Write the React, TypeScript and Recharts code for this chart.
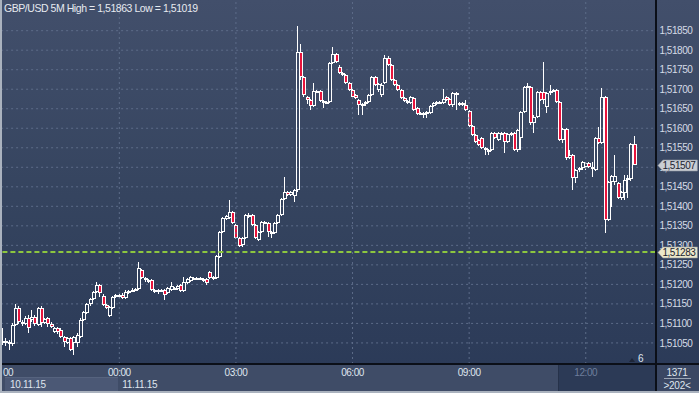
import React from 'react';
import { ComposedChart, Bar, XAxis, YAxis, CartesianGrid, ReferenceLine } from 'recharts';

// ---- data (GBP/USD, 5-minute candles from 10.11.15 21:00) ----
const open = [
  1.51050, 1.51055, 1.51050, 1.51047, 1.51096, 1.51140, 1.51104, 1.51099, 1.51114, 1.51109,
  1.51117, 1.51096, 1.51140, 1.51101, 1.51114, 1.51099, 1.51078, 1.51088, 1.51083, 1.51065,
  1.51050, 1.51063, 1.51050, 1.51050, 1.51065, 1.51109, 1.51127, 1.51150, 1.51163, 1.51181,
  1.51199, 1.51170, 1.51147, 1.51119, 1.51140, 1.51173, 1.51168, 1.51173, 1.51165, 1.51178,
  1.51183, 1.51186, 1.51188, 1.51237, 1.51217, 1.51211, 1.51211, 1.51186, 1.51181, 1.51186,
  1.51186, 1.51178, 1.51186, 1.51191, 1.51188, 1.51199, 1.51183, 1.51204, 1.51209, 1.51214,
  1.51217, 1.51214, 1.51209, 1.51214, 1.51232, 1.51217, 1.51217, 1.51270, 1.51334, 1.51368,
  1.51370, 1.51386, 1.51352, 1.51319, 1.51301, 1.51319, 1.51373, 1.51378, 1.51352, 1.51314,
  1.51334, 1.51360, 1.51357, 1.51334, 1.51332, 1.51357, 1.51378, 1.51419, 1.51437, 1.51429,
  1.51427, 1.51442, 1.51795, 1.51731, 1.51680, 1.51672, 1.51657, 1.51696, 1.51696, 1.51665,
  1.51665, 1.51667, 1.51767, 1.51790, 1.51757, 1.51742, 1.51737, 1.51716, 1.51698, 1.51685,
  1.51672, 1.51660, 1.51662, 1.51667, 1.51685, 1.51731, 1.51698, 1.51685, 1.51716, 1.51780,
  1.51762, 1.51724, 1.51711, 1.51698, 1.51678, 1.51670, 1.51665, 1.51678, 1.51652, 1.51637,
  1.51639, 1.51637, 1.51639, 1.51657, 1.51662, 1.51667, 1.51665, 1.51680, 1.51675, 1.51660,
  1.51690, 1.51662, 1.51660, 1.51660, 1.51644, 1.51606, 1.51583, 1.51570, 1.51575, 1.51550,
  1.51542, 1.51544, 1.51588, 1.51570, 1.51588, 1.51588, 1.51565, 1.51585, 1.51588, 1.51544,
  1.51575, 1.51642, 1.51706, 1.51706, 1.51614, 1.51629, 1.51693, 1.51693, 1.51655, 1.51690,
  1.51696, 1.51698, 1.51667, 1.51570, 1.51598, 1.51524, 1.51532, 1.51473, 1.51493, 1.51498,
  1.51501, 1.51511, 1.51498, 1.51493, 1.51575, 1.51562, 1.51680, 1.51365, 1.51462, 1.51462,
  1.51460, 1.51421, 1.51434, 1.51468, 1.51470, 1.51560,
];
const high = [
  1.51088, 1.51063, 1.51058, 1.51101, 1.51150, 1.51145, 1.51109, 1.51119, 1.51122, 1.51135,
  1.51122, 1.51142, 1.51145, 1.51114, 1.51117, 1.51104, 1.51091, 1.51091, 1.51088, 1.51068,
  1.51065, 1.51065, 1.51068, 1.51076, 1.51114, 1.51132, 1.51152, 1.51165, 1.51183, 1.51206,
  1.51201, 1.51176, 1.51150, 1.51145, 1.51170, 1.51176, 1.51176, 1.51178, 1.51186, 1.51186,
  1.51191, 1.51191, 1.51258, 1.51240, 1.51219, 1.51214, 1.51214, 1.51188, 1.51188, 1.51188,
  1.51188, 1.51193, 1.51206, 1.51193, 1.51199, 1.51201, 1.51219, 1.51217, 1.51222, 1.51219,
  1.51219, 1.51219, 1.51217, 1.51217, 1.51234, 1.51222, 1.51275, 1.51337, 1.51373, 1.51378,
  1.51416, 1.51388, 1.51355, 1.51322, 1.51322, 1.51380, 1.51383, 1.51380, 1.51355, 1.51337,
  1.51363, 1.51363, 1.51360, 1.51337, 1.51360, 1.51380, 1.51421, 1.51475, 1.51439, 1.51439,
  1.51445, 1.51863, 1.51816, 1.51734, 1.51683, 1.51675, 1.51716, 1.51698, 1.51698, 1.51672,
  1.51670, 1.51770, 1.51808, 1.51793, 1.51762, 1.51744, 1.51739, 1.51719, 1.51701, 1.51688,
  1.51675, 1.51665, 1.51670, 1.51688, 1.51734, 1.51734, 1.51716, 1.51716, 1.51788, 1.51785,
  1.51765, 1.51726, 1.51713, 1.51701, 1.51680, 1.51672, 1.51683, 1.51680, 1.51655, 1.51642,
  1.51642, 1.51644, 1.51660, 1.51667, 1.51670, 1.51670, 1.51701, 1.51683, 1.51678, 1.51693,
  1.51693, 1.51667, 1.51667, 1.51672, 1.51647, 1.51608, 1.51585, 1.51573, 1.51578, 1.51552,
  1.51547, 1.51591, 1.51591, 1.51591, 1.51591, 1.51591, 1.51588, 1.51591, 1.51591, 1.51598,
  1.51644, 1.51708, 1.51716, 1.51708, 1.51634, 1.51696, 1.51696, 1.51770, 1.51693, 1.51711,
  1.51701, 1.51701, 1.51670, 1.51601, 1.51601, 1.51544, 1.51534, 1.51496, 1.51501, 1.51516,
  1.51514, 1.51514, 1.51514, 1.51578, 1.51603, 1.51703, 1.51683, 1.51465, 1.51480, 1.51532,
  1.51462, 1.51439, 1.51480, 1.51480, 1.51562, 1.51580,
];
const low = [
  1.51045, 1.51042, 1.51032, 1.51042, 1.51094, 1.51099, 1.51094, 1.51096, 1.51076, 1.51104,
  1.51094, 1.51094, 1.51091, 1.51099, 1.51091, 1.51088, 1.51076, 1.51073, 1.51063, 1.51040,
  1.51047, 1.51030, 1.51019, 1.51040, 1.51063, 1.51106, 1.51124, 1.51145, 1.51160, 1.51178,
  1.51168, 1.51145, 1.51137, 1.51117, 1.51137, 1.51165, 1.51165, 1.51163, 1.51163, 1.51176,
  1.51181, 1.51183, 1.51186, 1.51214, 1.51206, 1.51204, 1.51183, 1.51178, 1.51176, 1.51181,
  1.51160, 1.51176, 1.51183, 1.51186, 1.51186, 1.51181, 1.51181, 1.51201, 1.51206, 1.51211,
  1.51211, 1.51211, 1.51206, 1.51199, 1.51214, 1.51211, 1.51214, 1.51268, 1.51332, 1.51365,
  1.51368, 1.51355, 1.51316, 1.51296, 1.51296, 1.51316, 1.51370, 1.51350, 1.51316, 1.51311,
  1.51332, 1.51355, 1.51322, 1.51319, 1.51329, 1.51355, 1.51375, 1.51416, 1.51427, 1.51427,
  1.51411, 1.51437, 1.51724, 1.51680, 1.51662, 1.51647, 1.51655, 1.51690, 1.51667, 1.51652,
  1.51662, 1.51665, 1.51765, 1.51767, 1.51739, 1.51734, 1.51713, 1.51696, 1.51678, 1.51675,
  1.51634, 1.51634, 1.51657, 1.51665, 1.51683, 1.51708, 1.51693, 1.51680, 1.51713, 1.51760,
  1.51721, 1.51708, 1.51696, 1.51675, 1.51667, 1.51662, 1.51662, 1.51644, 1.51634, 1.51634,
  1.51626, 1.51626, 1.51637, 1.51655, 1.51660, 1.51662, 1.51662, 1.51670, 1.51657, 1.51655,
  1.51647, 1.51657, 1.51657, 1.51644, 1.51603, 1.51580, 1.51562, 1.51555, 1.51547, 1.51532,
  1.51532, 1.51542, 1.51573, 1.51567, 1.51583, 1.51537, 1.51562, 1.51580, 1.51542, 1.51539,
  1.51544, 1.51639, 1.51703, 1.51608, 1.51588, 1.51626, 1.51670, 1.51662, 1.51639, 1.51685,
  1.51693, 1.51665, 1.51567, 1.51562, 1.51519, 1.51521, 1.51442, 1.51460, 1.51488, 1.51493,
  1.51493, 1.51498, 1.51475, 1.51491, 1.51560, 1.51560, 1.51332, 1.51363, 1.51398, 1.51455,
  1.51419, 1.51416, 1.51416, 1.51421, 1.51465, 1.51506,
];
const close = [
  1.51055, 1.51050, 1.51053, 1.51096, 1.51140, 1.51104, 1.51099, 1.51114, 1.51088, 1.51117,
  1.51099, 1.51140, 1.51101, 1.51111, 1.51099, 1.51091, 1.51088, 1.51078, 1.51065, 1.51053,
  1.51063, 1.51032, 1.51065, 1.51071, 1.51109, 1.51129, 1.51150, 1.51163, 1.51181, 1.51199,
  1.51178, 1.51147, 1.51140, 1.51142, 1.51168, 1.51168, 1.51173, 1.51165, 1.51181, 1.51183,
  1.51186, 1.51188, 1.51242, 1.51217, 1.51211, 1.51206, 1.51186, 1.51181, 1.51186, 1.51183,
  1.51173, 1.51191, 1.51196, 1.51188, 1.51196, 1.51183, 1.51206, 1.51214, 1.51219, 1.51217,
  1.51214, 1.51217, 1.51214, 1.51204, 1.51217, 1.51219, 1.51273, 1.51334, 1.51370, 1.51375,
  1.51386, 1.51357, 1.51319, 1.51298, 1.51319, 1.51378, 1.51378, 1.51352, 1.51319, 1.51334,
  1.51360, 1.51357, 1.51334, 1.51332, 1.51357, 1.51378, 1.51419, 1.51437, 1.51429, 1.51437,
  1.51442, 1.51795, 1.51731, 1.51685, 1.51672, 1.51657, 1.51696, 1.51693, 1.51670, 1.51670,
  1.51667, 1.51767, 1.51790, 1.51770, 1.51742, 1.51737, 1.51716, 1.51698, 1.51680, 1.51678,
  1.51660, 1.51662, 1.51667, 1.51685, 1.51731, 1.51711, 1.51713, 1.51711, 1.51780, 1.51762,
  1.51724, 1.51711, 1.51698, 1.51678, 1.51670, 1.51665, 1.51680, 1.51647, 1.51637, 1.51639,
  1.51637, 1.51642, 1.51657, 1.51665, 1.51667, 1.51665, 1.51675, 1.51672, 1.51660, 1.51690,
  1.51685, 1.51665, 1.51665, 1.51647, 1.51606, 1.51583, 1.51565, 1.51557, 1.51550, 1.51544,
  1.51544, 1.51588, 1.51575, 1.51588, 1.51585, 1.51565, 1.51585, 1.51588, 1.51544, 1.51596,
  1.51642, 1.51706, 1.51708, 1.51614, 1.51629, 1.51693, 1.51672, 1.51672, 1.51690, 1.51696,
  1.51698, 1.51667, 1.51570, 1.51598, 1.51524, 1.51532, 1.51473, 1.51493, 1.51498, 1.51514,
  1.51511, 1.51501, 1.51501, 1.51575, 1.51562, 1.51680, 1.51365, 1.51462, 1.51478, 1.51478,
  1.51421, 1.51437, 1.51468, 1.51473, 1.51560, 1.51507,
];

const startTime = { h: 21, m: 0 };
const stepMinutes = 5;
const emptySlots = 6;

const yTicks = [
  1.5105, 1.511, 1.5115, 1.512, 1.5125, 1.513, 1.5135, 1.514, 1.5145,
  1.515, 1.5155, 1.516, 1.5165, 1.517, 1.5175, 1.518, 1.5185,
];
const yDomain = [1.50996, 1.519286];
const xTickTimes = ['21:00', '00:00', '03:00', '06:00', '09:00', '12:00'];
const xTickText = ['00', '00:00', '03:00', '06:00', '09:00', '12:00'];
const gridTimes = ['00:00', '03:00', '06:00', '09:00', '12:00'];
const dateLabels = ['10.11.15', '11.11.15'];
const lastPrice = 1.51507;
const levelPrice = 1.51283;
const tagPrices = [levelPrice, lastPrice];
const tagFills = ['#ebe7c9', '#c9cdd3'];
const titleText = 'GBP/USD 5M High = 1,51863 Low = 1,51019';
const footerTop = '1371';
const footerBottom = '>202<';
const cornerCount = '6';

// ---- build table ----
const pad = (n: number) => String(n).padStart(2, '0');
const times: string[] = [];
for (let i = 0; i < open.length + emptySlots; i++) {
  const total = (startTime.h * 60 + startTime.m + i * stepMinutes) % 1440;
  times.push(`${pad(Math.floor(total / 60))}:${pad(total % 60)}`);
}
const data = times.map((t, i) =>
  i < open.length
    ? { t, o: open[i], h: high[i], l: low[i], c: close[i], range: [low[i], high[i]] }
    : { t, o: null, h: null, l: null, c: null, range: null }
);

const FONT = '"Liberation Sans", Arial, sans-serif';
const fmt = (v: number) => v.toFixed(5).replace('.', ',');

const Candle = (props: any) => {
  const { x, y, width, height, payload } = props;
  if (!payload || payload.o == null || !isFinite(y)) return null;
  const { o, h, l, c } = payload;
  const top = Math.min(y, y + height);
  const bottom = Math.max(y, y + height);
  const span = h - l;
  const py = (p: number) => (span > 0 ? top + ((h - p) / span) * (bottom - top) : top);
  const cx = Math.floor(x + width / 2) + 0.5;
  const bTop = Math.round(py(Math.max(o, c)));
  let bBot = Math.round(py(Math.min(o, c)));
  if (bBot - bTop < 2) bBot = bTop + 2;
  const up = c >= o;
  const wTop = Math.round(top);
  const wBot = Math.round(bottom);
  return (
    <g>
      {wTop < bTop && <line x1={cx} x2={cx} y1={wTop} y2={bTop} stroke="#ffffff" strokeWidth={1} />}
      {wBot > bBot && <line x1={cx} x2={cx} y1={bBot} y2={wBot} stroke="#ffffff" strokeWidth={1} />}
      <rect
        x={cx - 1}
        y={bTop + 0.5}
        width={3}
        height={bBot - bTop - 1}
        fill={up ? 'none' : '#e8143c'}
        stroke="#ffffff"
        strokeWidth={1}
      />
    </g>
  );
};

const XTick = (props: any) => {
  const { x, payload } = props;
  const idx = xTickTimes.indexOf(payload.value);
  if (idx < 0) return null;
  const dim = idx === xTickTimes.length - 1;
  return (
    <g>
      <text
        x={idx === 0 ? 3 : x}
        y={376}
        textAnchor={idx === 0 ? 'start' : 'middle'}
        fill={dim ? '#6e7e9b' : '#dfe5ee'}
        fontSize={10}
        letterSpacing={-0.45}
        fontFamily={FONT}
      >
        {xTickText[idx]}
      </text>
      {idx < dateLabels.length && (
        <text
          x={idx === 0 ? 10 : x + 3}
          y={388}
          textAnchor="start"
          fill="#dfe5ee"
          fontSize={10}
          letterSpacing={-0.3}
          fontFamily={FONT}
        >
          {dateLabels[idx]}
        </text>
      )}
    </g>
  );
};

// price-axis tick: regular labels, plus tags for the level / last price (listed last, drawn on top)
const YTick = (props: any) => {
  const { x, y, payload } = props;
  if (!payload || !isFinite(y)) return null;
  const v = payload.value;
  const tagIdx = tagPrices.indexOf(v);
  if (tagIdx < 0) {
    return (
      <text x={x} y={y + 3.6} fill="#d4dbe6" fontSize={10} letterSpacing={-0.45} fontFamily={FONT} textAnchor="start">
        {fmt(v)}
      </text>
    );
  }
  const x0 = x - 1.5;
  const y0 = Math.round(y) + 0.5;
  const pts = `${x0},${y0} ${x0 + 5},${y0 - 5.5} ${x0 + 39.5},${y0 - 5.5} ${x0 + 39.5},${y0 + 5.5} ${x0 + 5},${y0 + 5.5}`;
  return (
    <g>
      <polygon points={pts} fill={tagFills[tagIdx]} stroke="#8d949e" strokeWidth={0.6} />
      <text x={x0 + 4.5} y={y0 + 3.8} fill="#1b2230" fontSize={10} letterSpacing={-0.45} fontFamily={FONT}>
        {fmt(v)}
      </text>
    </g>
  );
};

export default function App() {
  return (
    <div
      style={{
        position: 'absolute',
        left: 0,
        top: 0,
        width: 699,
        height: 393,
        overflow: 'hidden',
        background: 'linear-gradient(180deg, #424f6b 0%, #35445f 50%, #2a3957 100%)',
        fontFamily: FONT,
      }}
    >
      {/* bottom time bar */}
      <div style={{ position: 'absolute', left: 0, top: 365, width: 699, height: 28, background: '#3f4c67' }} />
      <div style={{ position: 'absolute', left: 558, top: 365, width: 98, height: 26, background: '#2c3a56', borderLeft: '1px solid #26324a' }} />
      <div style={{ position: 'absolute', left: 5, top: 377, width: 113, height: 13, background: '#4b5875', borderTop: '1px solid #56637e' }} />
      <div style={{ position: 'absolute', left: 657, top: 365, width: 42, height: 26, background: '#3a4763' }} />

      <div style={{ position: 'absolute', left: 0, top: 0 }}>
        <ComposedChart
          width={699}
          height={393}
          data={data}
          margin={{ top: 0, right: 0.6, bottom: 0, left: 1.1 }}
          barCategoryGap={0}
        >
          <CartesianGrid
            horizontal
            vertical={false}
            horizontalValues={yTicks}
            stroke="#5d6c89"
            strokeDasharray="2 3"
          />
          <XAxis
            dataKey="t"
            type="category"
            height={29}
            axisLine={false}
            tickLine={false}
            interval={0}
            ticks={xTickTimes}
            tick={<XTick />}
          />
          <YAxis
            orientation="right"
            type="number"
            width={43}
            domain={yDomain}
            allowDataOverflow
            ticks={[...yTicks, ...tagPrices]}
            interval={0}
            axisLine={false}
            tickLine={false}
            tickSize={0}
            tickMargin={4}
            tick={<YTick />}
          />
          {gridTimes.map((t) => (
            <ReferenceLine key={t} x={t} stroke="#5d6c89" strokeDasharray="2 3" />
          ))}
          <Bar dataKey="range" isAnimationActive={false} shape={<Candle />} />
          <ReferenceLine y={levelPrice} stroke="#8cc63f" strokeWidth={2} strokeDasharray="5 3" />
        </ComposedChart>
      </div>

      <svg
        width={699}
        height={393}
        style={{ position: 'absolute', left: 0, top: 0, pointerEvents: 'none' }}
      >
        {/* frame lines */}
        <rect x={0} y={363} width={699} height={2} fill="#0b0f18" />
        <rect x={655} y={0} width={2} height={393} fill="#0b0f18" />
        <rect x={0} y={0} width={2} height={393} fill="#aab2be" />
        <rect x={0} y={391} width={699} height={2} fill="#aab2be" />
        <text x={4} y={12} fill="#e6eaf0" fontSize={10.5} letterSpacing={-0.45} fontFamily={FONT}>
          {titleText}
        </text>
        <polygon points="629,362 632,358 635,362" fill="#1e2638" />
        <text x={638} y={362} fill="#dfe5ee" fontSize={10} fontFamily={FONT}>
          {cornerCount}
        </text>
        <text x={677} y={376} textAnchor="middle" fill="#dfe5ee" fontSize={10} letterSpacing={-0.3} fontFamily={FONT}>
          {footerTop}
        </text>
        <line x1={664} x2={691} y1={378.5} y2={378.5} stroke="#9aa4b4" strokeWidth={1} />
        <text x={677} y={389} textAnchor="middle" fill="#dfe5ee" fontSize={10} letterSpacing={-0.3} fontFamily={FONT}>
          {footerBottom}
        </text>
      </svg>
    </div>
  );
}
